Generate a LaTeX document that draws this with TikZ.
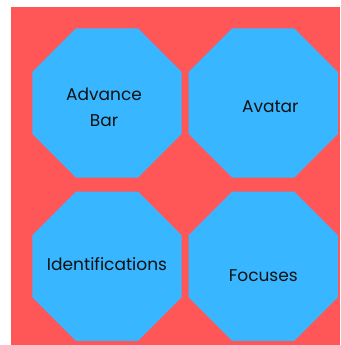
\documentclass[tikz,border=0pt]{standalone}
\usepackage{fontspec}
\setmainfont{Poppins}
\usepackage{tikz}
\usetikzlibrary{shapes.geometric}
\definecolor{bg}{HTML}{FFFFFF}
\definecolor{panel}{HTML}{FF5757}
\definecolor{octa}{HTML}{38B6FF}
\definecolor{ink}{HTML}{111111}
\tikzset{
  panelbox/.style={fill=panel, draw=none},
  octbox/.style={regular polygon, regular polygon sides=8, minimum size=161.7pt,
    inner sep=0pt, outer sep=0pt, fill=octa, draw=none},
  lab/.style={text=ink, font=\fontsize{17}{26}\selectfont, align=center}
}
\begin{document}
\begin{tikzpicture}[x=1pt, y=-1pt]
  \useasboundingbox (0,0) rectangle (340,345);
  \fill[panelbox] (11,7) rectangle (340,345);

  % octagons
  \node[octbox] (adv) at (107,103) {};
  \node[octbox] (ava) at (263.3,103) {};
  \node[octbox] (ide) at (107,266.3) {};
  \node[octbox] (foc) at (263.3,266.3) {};

  % labels
  \node[lab] (advtxt) at ([shift={(-3,4)}]adv.center) {Advance\\Bar};
  \node[lab] (avatxt) at ([shift={(7,4)}]ava.center) {Avatar};
  \node[lab] (idetxt) at ([shift={(0,-2)}]ide.center) {Identifications};
  \node[lab] (foctxt) at ([shift={(0,9)}]foc.center) {Focuses};
\end{tikzpicture}
\end{document}
